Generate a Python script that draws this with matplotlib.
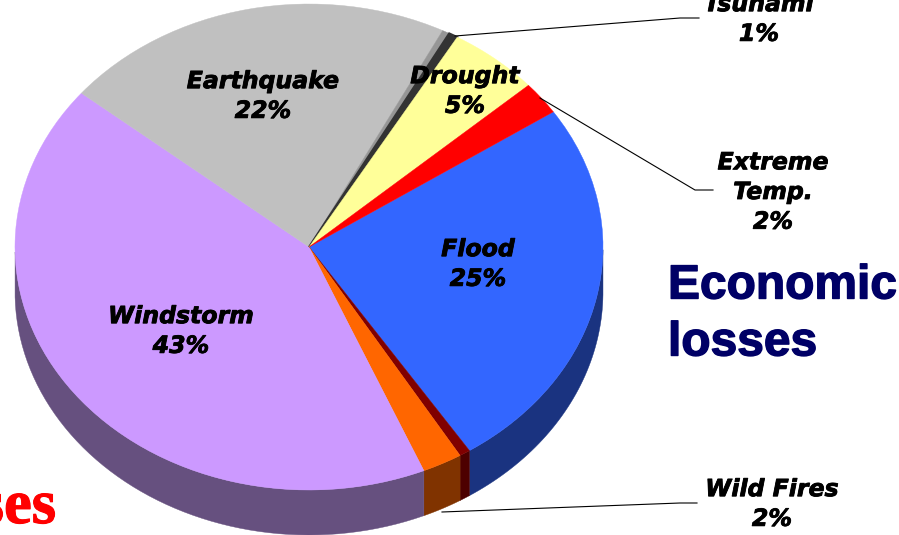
import numpy as np
import matplotlib
matplotlib.use('Agg')
import matplotlib.pyplot as plt
import matplotlib.patheffects as pe

# slices, clockwise starting from Flood
slices = ['Flood', 'Wild Fires b', 'Wild Fires', 'Windstorm', 'Earthquake', 'Tsunami b', 'Tsunami', 'Drought', 'Extreme Temp.']
values = [25.2, 0.6, 2.2, 42.3, 21.6, 0.4, 0.5, 5.0, 2.2]
colors = ['#3366ff', '#800000', '#ff6600', '#cc99ff', '#c0c0c0', '#969696', '#333333', '#ffff99', '#ff0000']
side_colors = ['#1a3380', '#4d0000', '#803300', '#66507f', '#606060', '#4b4b4b', '#1a1a1a', '#80804d', '#800000']

W, H = 899, 535
cx, cy, rx, ry = 309, 247, 294, 243
depth = 45 / ry
start = 33.8

fig = plt.figure(figsize=(W / 100, H / 100), dpi=100)
ax = fig.add_axes([0, 0, 1, 1])
wedges, _ = ax.pie(values, colors=colors, startangle=start, counterclock=False, radius=1,
                   wedgeprops=dict(linewidth=0.3), center=(0, 0))
for w, c in zip(wedges, colors):
    w.set_edgecolor(c)
# the tsunami slice looks like a band, not a thin point
wedges[6].set_linewidth(1.5)
ax.set_aspect('auto')
ax.set_xlim(-cx / rx, (W - cx) / rx)
ax.set_ylim((cy - H) / ry, cy / ry)

# side wall of the pie, only the front half shows
a = start
for v, c in zip(values, side_colors):
    a2 = a - v / sum(values) * 360
    t = np.linspace(a2, a, 80)
    t = np.radians(t)
    mask = np.sin(t) <= 0
    if mask.any():
        xs = np.cos(t[mask])
        ys = np.sin(t[mask])
        ax.fill(np.r_[xs, xs[::-1]], np.r_[ys, ys[::-1] - depth], color=c, lw=0.3, zorder=0)
    a = a2

# overlay in pixel coords for the text and leader lines
ov = fig.add_axes([0, 0, 1, 1])
ov.set_xlim(0, W)
ov.set_ylim(H, 0)
ov.axis('off')


def heavy(color, lw=0.6):
    # the original type is heavier than the bold we have
    return [pe.withStroke(linewidth=lw, foreground=color)]


lab = dict(family='DejaVu Sans', weight='bold', style='italic', fontsize=17,
           ha='center', va='center', linespacing=1.3, color='black',
           path_effects=heavy('black'))
ov.text(263, 96, 'Earthquake\n22%', **lab)
ov.text(465, 91, 'Drought\n5%', **lab)
ov.text(478, 264, 'Flood\n25%', **lab)
ov.text(181, 331, 'Windstorm\n43%', **lab)
ov.text(759, 19, 'Tsunami\n1%', **lab)
ov.text(773, 192, 'Extreme\nTemp.\n2%', **lab)
ov.text(772, 504, 'Wild Fires\n2%', **lab)

ov.plot([455, 680, 699], [36, 18, 18], color='black', lw=0.8)
ov.plot([540, 695, 713], [98, 190, 190], color='black', lw=0.8)
ov.plot([442, 680, 697], [512, 503, 503], color='black', lw=0.8)

ov.text(668, 286, 'Economic', family='Liberation Sans', weight='bold', fontsize=34.5,
        color='#000066', ha='left', va='center', path_effects=heavy('#000066', 1.0))
ov.text(668, 343, 'losses', family='Liberation Sans', weight='bold', fontsize=34.5,
        color='#000066', ha='left', va='center', path_effects=heavy('#000066', 1.0))
ov.text(56, 523, 'losses', family='Liberation Serif', weight='bold', fontsize=45,
        color='#ff0000', ha='right', va='baseline', path_effects=heavy('#ff0000', 0.8))

fig.savefig('out.png', dpi=100)
